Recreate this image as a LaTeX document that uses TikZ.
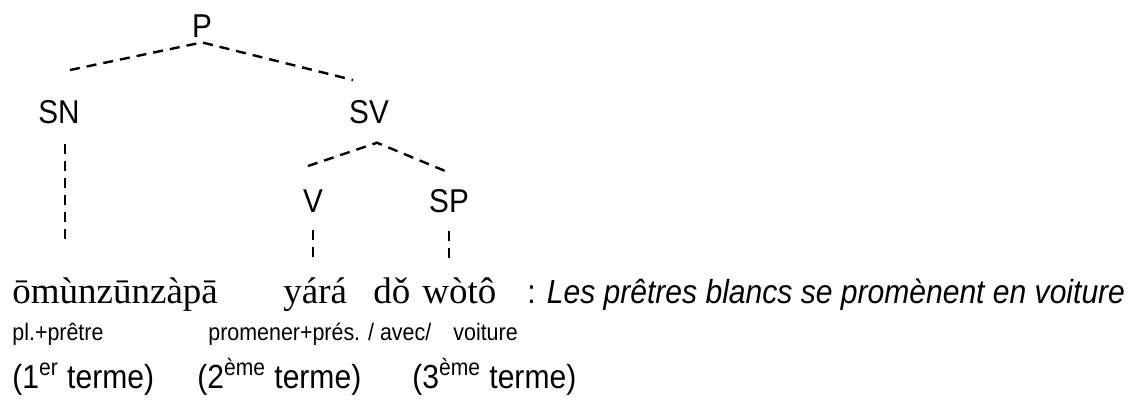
\documentclass[tikz,border=0pt]{standalone}
\usepackage{fontspec}
\setmainfont{Liberation Sans}[FakeStretch=0.9]
\newfontfamily\wordfont{Liberation Serif}
\usetikzlibrary{positioning}

\begin{document}
\begin{tikzpicture}[x=0.5pt,y=-0.5pt,
  lbl/.style={anchor=base,inner sep=2.5pt,font=\fontsize{16.5}{19}\selectfont},
  word/.style={anchor=base west,inner sep=0pt,font=\wordfont\fontsize{18.5}{22}\selectfont},
  line/.style={anchor=base west,inner sep=0pt,font=\fontsize{16.7}{19}\selectfont},
  gloss/.style={anchor=base west,inner sep=0pt,font=\fontsize{11.9}{14}\selectfont},
  branch/.style={line width=1.2pt,dash pattern=on 5pt off 3.5pt}]
\useasboundingbox (0,0) rectangle (1138,404);
\node[lbl] (P) at (202,37) {P};
\node[lbl] (SN) at (59,123) {SN};
\node[lbl] (SV) at (369,123) {SV};
\node[lbl] (V) at (313,212) {V};
\node[lbl] (SP) at (449,212) {SP};
\coordinate (sn-hook) at (70,70);\coordinate (sv-hook) at (353,80);
\coordinate (v-hook) at (308,166);\coordinate (sp-hook) at (450,173);
\coordinate (sn-foot) at (65,243);\coordinate (v-foot) at (313,258);\coordinate (sp-foot) at (449,258);
\draw[branch] (sn-hook)--(P.south)--(sv-hook);
\draw[branch] (v-hook)--([xshift=4pt,yshift=-7pt]SV.south)--(sp-hook);
\draw[branch,shorten <=7.5pt] ([xshift=3pt]SN.south)--(sn-foot);
\draw[branch,shorten <=6.5pt] (V.south)--(v-foot);\draw[branch,shorten <=6.5pt] (SP.south)--(sp-foot);
\node[word] (omun) at (12,303) {ōmùnzūnzàpā};
\node[word] (yara) at (283,303) {yárá};
\node[word] (do) at (373,303) {dǒ};
\node[word] (woto) at (422,303) {wòtô};
\node[line] (trad) at (527,303) {: \textit{Les prêtres blancs se promènent en voiture}};
\node[gloss] (g-pretre) at (12,340) {pl.+prêtre};
\node[gloss] (g-promener) at (208,340) {promener+prés. / avec/};
\node[gloss] (g-voiture) at (453,340) {voiture};
\node[line] (t1) at (12,388) {(1\textsuperscript{er} terme)};
\node[line] (t2) at (197,388) {(2\textsuperscript{ème} terme)};
\node[line] (t3) at (412,388) {(3\textsuperscript{ème} terme)};
\end{tikzpicture}
\end{document}
